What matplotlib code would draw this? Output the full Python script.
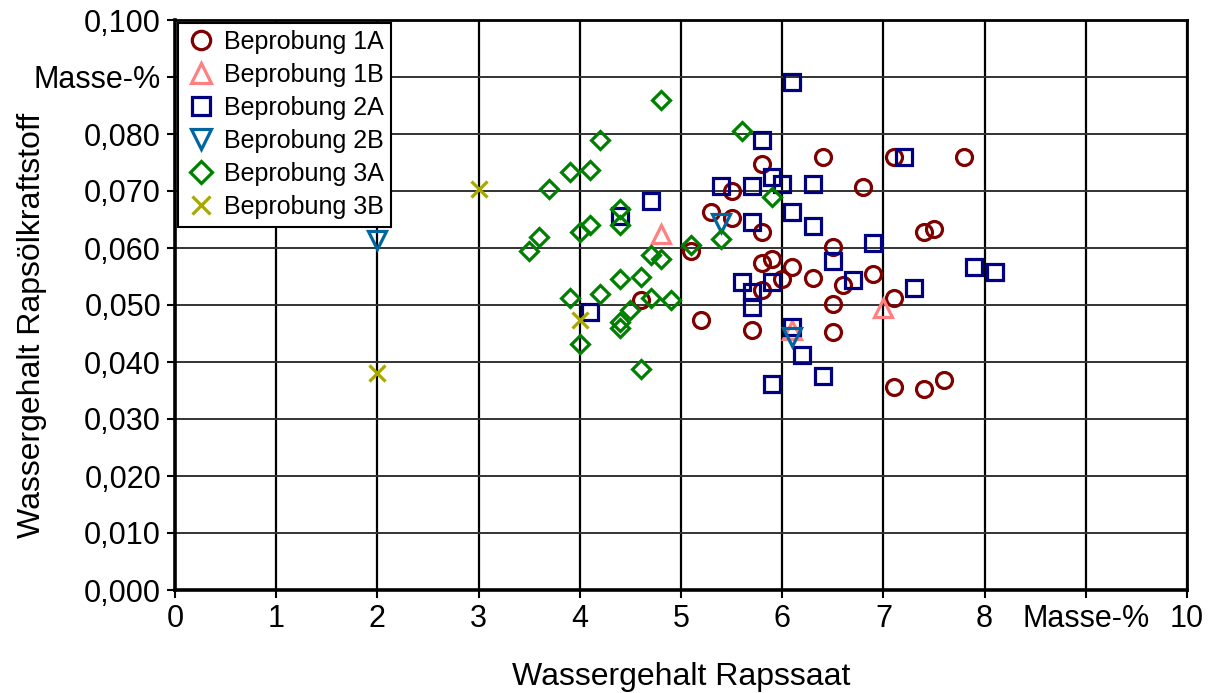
import matplotlib
matplotlib.use("Agg")
import matplotlib.pyplot as plt

plt.rcParams['font.family'] = ['Liberation Sans', 'DejaVu Sans']

# --- data ---
x_1A = [6.4, 7.1, 7.8, 5.8, 6.8, 5.5, 5.3, 5.5, 5.8, 7.4, 7.5, 6.5, 5.1, 5.8, 5.9,
        6.1, 6.0, 5.8, 6.3, 6.6, 6.9, 7.1, 6.5, 4.6, 5.2, 5.7, 6.5, 7.1, 7.4, 7.6]
y_1A = [0.0760, 0.0760, 0.0759, 0.0747, 0.0707, 0.0700, 0.0663, 0.0652, 0.0628, 0.0628,
        0.0633, 0.0602, 0.0595, 0.0574, 0.0580, 0.0567, 0.0546, 0.0527, 0.0548, 0.0535,
        0.0554, 0.0513, 0.0502, 0.0509, 0.0474, 0.0456, 0.0453, 0.0356, 0.0352, 0.0368]

x_1B = [4.8, 7.0, 6.1]
y_1B = [0.0624, 0.0494, 0.0456]

x_2A = [6.1, 5.8, 5.9, 6.0, 6.3, 5.4, 5.7, 7.2, 4.7, 4.4, 6.1, 6.3, 5.7, 6.9,
        6.5, 7.9, 8.1, 5.6, 5.9, 6.7, 7.3, 5.7, 5.7, 4.1, 6.1, 6.2, 6.4, 5.9]
y_2A = [0.0891, 0.0789, 0.0725, 0.0712, 0.0713, 0.0708, 0.0708, 0.0760, 0.0682, 0.0657,
        0.0663, 0.0638, 0.0645, 0.0608, 0.0577, 0.0567, 0.0558, 0.0540, 0.0540, 0.0543,
        0.0530, 0.0522, 0.0497, 0.0488, 0.0462, 0.0412, 0.0375, 0.0361]

x_2B = [2.0, 5.4, 6.1]
y_2B = [0.0614, 0.0643, 0.0444]

x_3A = [4.8, 5.6, 4.2, 3.9, 4.1, 3.7, 4.4, 4.4, 4.1, 4.0, 3.6, 3.5, 5.1, 5.4,
        5.9, 4.7, 4.8, 4.6, 4.4, 4.2, 3.9, 4.7, 4.9, 4.5, 4.4, 4.4, 4.0, 4.6]
y_3A = [0.0859, 0.0806, 0.0789, 0.0733, 0.0736, 0.0703, 0.0669, 0.0641, 0.0641, 0.0628,
        0.0619, 0.0595, 0.0605, 0.0615, 0.0689, 0.0587, 0.0580, 0.0549, 0.0546, 0.0519,
        0.0513, 0.0513, 0.0509, 0.0492, 0.0470, 0.0459, 0.0432, 0.0387]

x_3B = [2.0, 3.0, 4.0]
y_3B = [0.0381, 0.0704, 0.0474]

series_labels = ['Beprobung 1A', 'Beprobung 1B', 'Beprobung 2A',
                 'Beprobung 2B', 'Beprobung 3A', 'Beprobung 3B']

x_ticks = [0, 1, 2, 3, 4, 5, 6, 7, 8, 9, 10]
x_ticklabels = ['0', '1', '2', '3', '4', '5', '6', '7', '8', 'Masse-%', '10']
y_ticks = [0.0, 0.01, 0.02, 0.03, 0.04, 0.05, 0.06, 0.07, 0.08, 0.09, 0.10]
y_ticklabels = ['0,000', '0,010', '0,020', '0,030', '0,040', '0,050',
                '0,060', '0,070', '0,080', 'Masse-%', '0,100']

# --- figure ---
fig = plt.figure(figsize=(12.11, 6.93), dpi=100)
ax = fig.add_axes([175 / 1211, 1 - 590 / 693, (1187 - 175) / 1211, (590 - 20) / 693])

styles = [
    (x_1A, y_1A, 'o', '#800000', 11.5),
    (x_1B, y_1B, '^', '#FF8080', 12.5),
    (x_2A, y_2A, 's', '#000080', 11.5),
    (x_2B, y_2B, 'v', '#0066A0', 12.5),
    (x_3A, y_3A, 'D', '#008000', 9.5),
    (x_3B, y_3B, 'x', '#A8A800', 11.5),
]
for (xs, ys, m, c, ms), lab in zip(styles, series_labels):
    ax.plot(xs, ys, linestyle='none', marker=m, markersize=ms,
            markerfacecolor='none', markeredgecolor=c, markeredgewidth=2.3,
            label=lab, zorder=3)

ax.set_xlim(0, 10)
ax.set_ylim(0, 0.1)
ax.set_xticks(x_ticks)
ax.set_xticklabels(x_ticklabels, fontsize=22)
ax.set_yticks(y_ticks)
ax.set_yticklabels(y_ticklabels, fontsize=22)
ax.tick_params(axis='both', direction='out', length=6, width=1.5, colors='black')
ax.tick_params(axis='x', pad=4)
ax.tick_params(axis='y', pad=4)

ax.xaxis.grid(True, color='black', linewidth=1.6, zorder=1)
ax.yaxis.grid(True, color='#333333', linewidth=1.4, zorder=1)
ax.set_axisbelow(True)

for side in ['left', 'bottom']:
    ax.spines[side].set_linewidth(2.6)
for side in ['top', 'right']:
    ax.spines[side].set_linewidth(2.0)

ax.set_xlabel('Wassergehalt Rapssaat', fontsize=23, labelpad=20)
ax.set_ylabel('Wassergehalt Rapsölkraftstoff', fontsize=23, va='center', ha='center')
ax.yaxis.set_label_coords((32 - 175) / 1012, (590 - 325) / 570)

leg = ax.legend(loc='upper left', bbox_to_anchor=(0.0, 1.0), fontsize=18,
                frameon=True, fancybox=False, framealpha=1, edgecolor='black',
                borderpad=0.3, labelspacing=0.36, handletextpad=0.3,
                handlelength=1.25, borderaxespad=0.1, markerscale=1.15)
leg.get_frame().set_linewidth(1.5)
leg.set_zorder(5)

fig.savefig('out.png', dpi=100)
